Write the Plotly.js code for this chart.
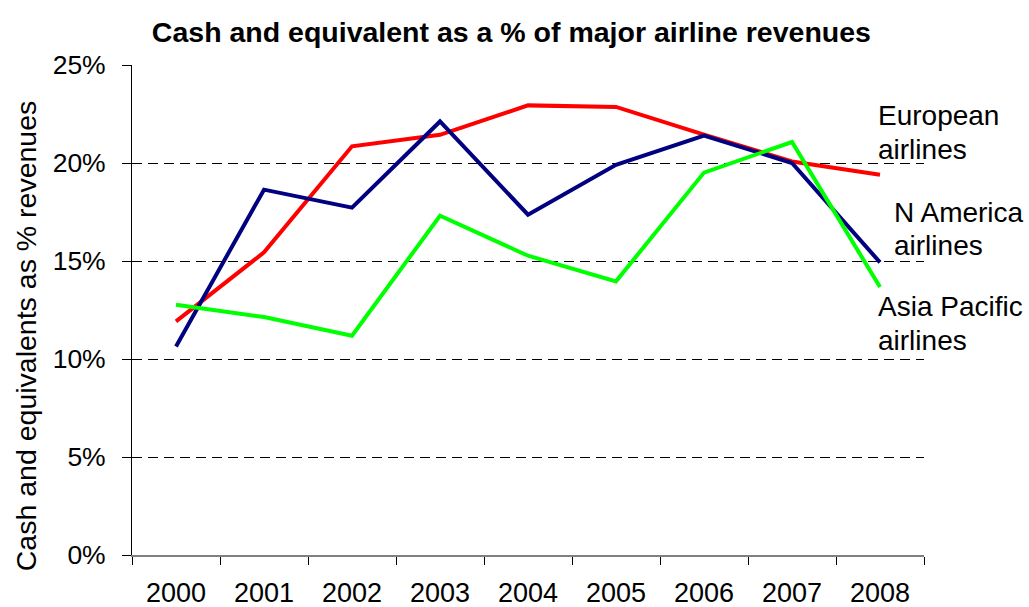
<!DOCTYPE html>
<html>
<head>
<meta charset="utf-8">
<script src="https://cdn.plot.ly/plotly-3.0.1.min.js"></script>
<style>html,body{margin:0;padding:0;background:#fff;}#chart{width:1029px;height:607px;}</style>
</head>
<body>
<div id="chart"></div>
<script>
const years = ["2000","2001","2002","2003","2004","2005","2006","2007","2008"];
const nAmerica = [10.64, 18.64, 17.72, 22.12, 17.36, 19.91, 21.40, 20.00, 14.93];
const european = [11.92, 15.44, 20.85, 21.44, 22.94, 22.86, 21.45, 20.08, 19.40];
const asiaPacific = [12.77, 12.14, 11.19, 17.31, 15.27, 13.96, 19.51, 21.07, 13.67];
const yTicks = [0, 5, 10, 15, 20, 25];
const yTickLabels = ["0%", "5%", "10%", "15%", "20%", "25%"];

const FONT = "Arial, 'Liberation Sans', sans-serif";

const traces = [
  {x: years, y: european, type: "scatter", mode: "lines", name: "European airlines",
   line: {color: "#FF0000", width: 4}},
  {x: years, y: nAmerica, type: "scatter", mode: "lines", name: "N America airlines",
   line: {color: "#000080", width: 4}},
  {x: years, y: asiaPacific, type: "scatter", mode: "lines", name: "Asia Pacific airlines",
   line: {color: "#00FF00", width: 4}}
];

function lbl(text, x, y) {
  return {xref: "paper", yref: "paper", x: x, y: y, xanchor: "left", yanchor: "middle",
          showarrow: false, text: text, font: {family: FONT, size: 28, color: "#000"}};
}

const layout = {
  width: 1029, height: 607,
  margin: {l: 132, r: 105, t: 65, b: 52},
  paper_bgcolor: "#fff", plot_bgcolor: "#fff",
  showlegend: false,
  font: {family: FONT, color: "#000"},
  title: {text: "<b>Cash and equivalent as a % of major airline revenues</b>",
          font: {family: FONT, size: 28.5, color: "#000"},
          x: 0.497, xanchor: "center", y: 0.948, yanchor: "middle"},
  xaxis: {
    type: "category", range: [-0.5, 8.5],
    showline: true, linecolor: "#808080", linewidth: 1.5,
    ticks: "outside", tickson: "boundaries", ticklen: 8, tickcolor: "#000", tickwidth: 1,
    showgrid: false, zeroline: false, ticklabelstandoff: 13,
    tickfont: {family: FONT, size: 27, color: "#000"}
  },
  yaxis: {
    range: [0, 25], tickvals: yTicks, ticktext: yTickLabels,
    showline: true, linecolor: "#000", linewidth: 1,
    ticks: "outside", ticklen: 9, tickcolor: "#000",
    showgrid: true, gridcolor: "#000", gridwidth: 1, griddash: "10px,6px",
    zeroline: false, ticklabelstandoff: 11,
    tickfont: {family: FONT, size: 26.5, color: "#000"}
  },
  annotations: [
    {xref: "paper", yref: "paper", x: -0.1338, y: 0.4465, xanchor: "center", yanchor: "middle",
     textangle: -90, showarrow: false, text: "Cash and equivalents as % revenues",
     font: {family: FONT, size: 28.5, color: "#000"}},
    lbl("European", 0.94, 0.8965),
    lbl("airlines", 0.94, 0.8271),
    lbl("N America", 0.959, 0.6986),
    lbl("airlines", 0.959, 0.6312),
    lbl("Asia Pacific", 0.94, 0.5067),
    lbl("airlines", 0.94, 0.4373)
  ]
};

Plotly.newPlot("chart", traces, layout, {displayModeBar: false, staticPlot: true});
</script>
</body>
</html>
